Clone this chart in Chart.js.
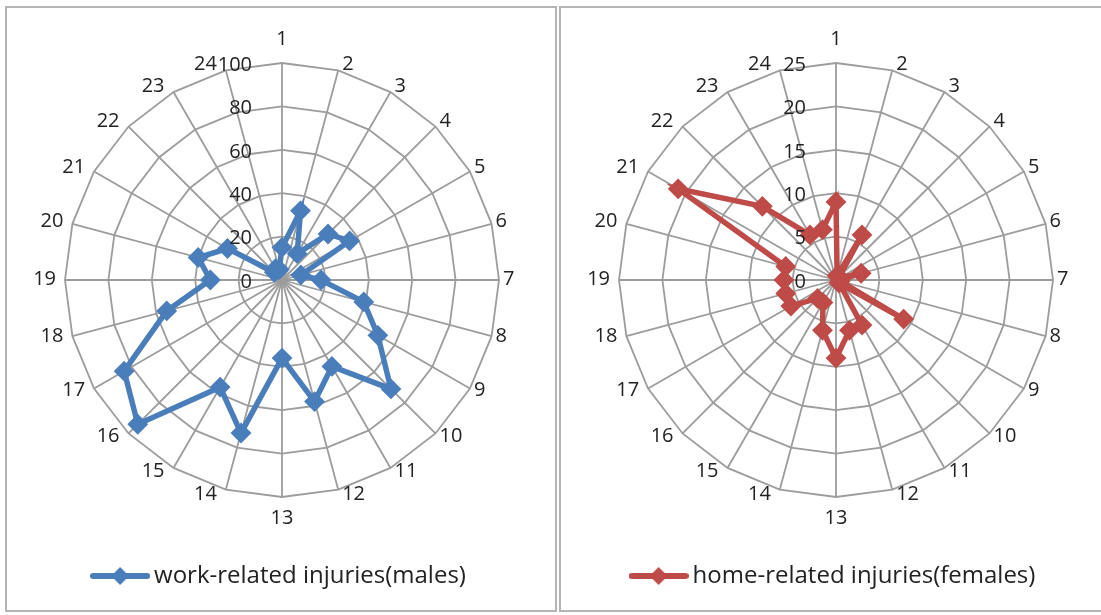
<!DOCTYPE html>
<html>
<head>
<meta charset="utf-8">
<script src="https://cdn.jsdelivr.net/npm/chart.js@4.4.0/dist/chart.umd.min.js"></script>
<style>
  body { margin: 0; background: #fff; width: 1101px; height: 615px; overflow: hidden; position: relative; }
  .panel { position: absolute; border: 2px solid #b4b4b4; box-sizing: border-box; background: #fff; overflow: hidden; }
  #p1 { left: 5px; top: 6px; width: 552px; height: 606px; }
  #p2 { left: 559px; top: 6px; width: 546px; height: 606px; }
  canvas { display: block; }
</style>
</head>
<body>
<div class="panel" id="p1"><canvas id="work" width="548" height="602"></canvas></div>
<div class="panel" id="p2"><canvas id="home" width="542" height="602"></canvas></div>
<script>
// hours of the day (spokes)
const hours = ["1","2","3","4","5","6","7","8","9","10","11","12","13","14","15","16","17","18","19","20","21","22","23","24"];

// injuries per hour
const workMales = [15, 33, 14, 30, 36, 9, 18, 39, 51, 71, 46, 58, 36, 73, 57, 94, 84, 55, 33, 40, 29, 5, 6, 5];
const homeFemales = [9, 0.5, 6, 0.5, 0.5, 3, 0.5, 0.5, 9, 0.5, 6, 6, 9, 6, 3, 3, 6, 6, 6, 6, 21, 12, 6, 6];

const workMax = 100, workStep = 20;
const homeMax = 25, homeStep = 5;

const blue = "#4a7ebb";
const red = "#be4b48";
const gridGray = "#9c9c9c";
const font = '"Open Sans", "Liberation Sans", sans-serif';

// the legend swatch: a line with a diamond on it
function legendIcon(color) {
    const c = document.createElement("canvas");
    c.width = 60; c.height = 22;
    const g = c.getContext("2d");
    g.strokeStyle = color;
    g.lineWidth = 6;
    g.lineCap = "round";
    g.beginPath(); g.moveTo(3, 11); g.lineTo(57, 11); g.stroke();
    g.fillStyle = color;
    g.beginPath(); g.moveTo(30, 2); g.lineTo(39, 11); g.lineTo(30, 20); g.lineTo(21, 11); g.closePath(); g.fill();
    return c;
}

// Excel style labels: ticks right aligned left of the vertical axis,
// hour labels set just beside the outer ring
const excelLabels = {
    id: "excelLabels",
    afterDatasetsDraw(chart) {
        const s = chart.scales.r;
        const ctx = chart.ctx;
        ctx.save();
        ctx.font = "20px " + font;
        ctx.fillStyle = "#222";
        ctx.textBaseline = "middle";

        ctx.textAlign = "right";
        s.ticks.forEach(t => {
            const d = s.getDistanceFromCenterForValue(t.value);
            ctx.fillText(t.label, s.xCenter - 30, s.yCenter - d + 2);
        });

        chart.data.labels.forEach((lab, i) => {
            const a = s.getIndexAngle(i);
            const sn = Math.sin(a), cs = Math.cos(a);
            const p = s.getPointPosition(i, s.drawingArea);
            let x, y;
            if (Math.abs(sn) < 0.01) {
                ctx.textAlign = "center";
                x = p.x;
                y = cs > 0 ? p.y - 25 : p.y + 20;
            } else {
                ctx.textAlign = sn > 0 ? "left" : "right";
                x = p.x + (sn > 0 ? 4 : -9);
                y = p.y - 2 - 5.5 * cs;
            }
            ctx.fillText(lab, x, y + 1);
        });
        ctx.restore();
    }
};

function makeRadar(id, label, values, color, max, step, padding) {
    return new Chart(document.getElementById(id), {
        type: "radar",
        data: {
            labels: hours,
            datasets: [{
                label: label,
                data: values,
                borderColor: color,
                backgroundColor: color,
                borderWidth: 5.5,
                fill: false,
                pointStyle: "rectRot",
                pointRadius: 9,
                pointBorderWidth: 2,
                pointBackgroundColor: color,
                tension: 0
            }]
        },
        options: {
            responsive: false,
            animation: false,
            layout: { padding: padding },
            plugins: {
                tooltip: { enabled: false },
                legend: {
                    position: "bottom",
                    labels: {
                        usePointStyle: true,
                        pointStyle: legendIcon(color),
                        pointStyleWidth: 44,
                        color: "#222",
                        font: { family: font, size: 24 },
                        padding: 67
                    }
                }
            },
            scales: {
                r: {
                    min: 0,
                    max: max,
                    ticks: { stepSize: step, display: false },
                    grid: { color: gridGray, lineWidth: 1.8 },
                    angleLines: { color: gridGray, lineWidth: 1.8 },
                    pointLabels: { display: false }
                }
            }
        },
        plugins: [excelLabels]
    });
}

makeRadar("work", "work-related injuries(males)", workMales, blue, workMax, workStep,
    { top: 55, bottom: 12, left: 58, right: 56 });
makeRadar("home", "home-related injuries(females)", homeFemales, red, homeMax, homeStep,
    { top: 55, bottom: 12, left: 58, right: 50 });
</script>
</body>
</html>
